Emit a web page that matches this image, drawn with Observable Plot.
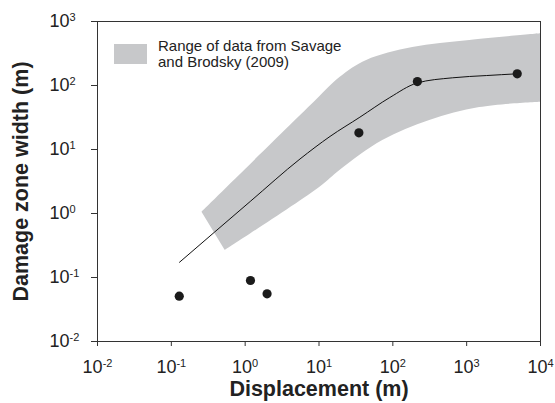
<!DOCTYPE html>
<html>
<head>
<meta charset="utf-8">
<script src="https://cdn.jsdelivr.net/npm/d3@7"></script>
<script src="https://cdn.jsdelivr.net/npm/@observablehq/plot@0.6"></script>
<style>
  body { margin: 0; background: #fff; }
  #wrap { position: relative; width: 555px; height: 403px; font-family: "Liberation Sans", Arial, sans-serif; }
  #legend { position: absolute; left: 114px; top: 38px; display: flex; align-items: flex-start; pointer-events: none; }
  #legend .sw { width: 33px; height: 20px; background: #c7c8ca; margin-top: 6px; }
  #legend .tx { margin-left: 11px; font-size: 15px; line-height: 16px; color: #222; }
</style>
</head>
<body>
<div id="wrap"></div>
<script>
// Tick values
const xTicks = [1e-2, 1e-1, 1e0, 1e1, 1e2, 1e3, 1e4];
const yTicks = [1e-2, 1e-1, 1e0, 1e1, 1e2, 1e3];

// Measured damage-zone data points
const pointX = [0.128, 1.18, 1.98, 34.7, 215, 4840];
const pointY = [0.051, 0.0897, 0.0556, 18.2, 115, 152];

// Fitted curve
const curveX = [0.129, 1.17, 5.53, 14.1, 35.8, 91, 211, 647, 1845, 4700];
const curveY = [0.173, 1.54, 7.11, 16.0, 32, 64.9, 109, 132, 143, 152];

// Savage & Brodsky (2009) range band: lower and upper edges
const lowerX = [0.537, 10.3, 19.2, 73, 316, 1500, 10000];
const lowerY = [0.264, 2.58, 4.7, 13.8, 28.4, 45.3, 54.8];
const upperX = [0.26, 9.1, 19.2, 44.2, 186, 1100, 10000];
const upperY = [1.05, 58.3, 133, 246, 392, 505, 643];

const legendText = ["Range of data from Savage", "and Brodsky (2009)"];
const xTitle = "Displacement (m)";
const yTitle = "Damage zone width (m)";

const points = pointX.map((x, i) => ({x, y: pointY[i]}));
const curve = curveX.map((x, i) => ({x, y: curveY[i]}));
const band = lowerX.map((lx, i) => ({lx, ly: lowerY[i], ux: upperX[i], uy: upperY[i]}));

const fmt = d => "10^" + Math.round(Math.log10(d));
const font = '"Liberation Sans", Arial, sans-serif';

const plot = Plot.plot({
  width: 555,
  height: 403,
  marginLeft: 97,
  marginRight: 15,
  marginTop: 21,
  marginBottom: 62,
  style: {fontFamily: font, fontSize: "18px", color: "#222", background: "#fff", overflow: "visible"},
  x: {type: "log", domain: [1e-2, 1e4]},
  y: {type: "log", domain: [1e-2, 1e3]},
  marks: [
    Plot.area(band, {x1: "lx", y1: "ly", x2: "ux", y2: "uy", fill: "#c7c8ca", curve: "catmull-rom"}),
    Plot.line(curve, {x: "x", y: "y", stroke: "#111", strokeWidth: 1, curve: "monotone-x"}),
    Plot.dot(points, {x: "x", y: "y", r: 4.6, fill: "#1b1b1b", stroke: "none"}),
    Plot.frame({stroke: "#333", strokeWidth: 1}),
    Plot.axisX({ticks: xTicks, tickSize: 5, tickPadding: 14, tickFormat: fmt, label: null, stroke: "#333"}),
    Plot.axisY({ticks: yTicks, tickSize: 6, tickPadding: 42, textAnchor: "start", tickFormat: fmt, label: null, stroke: "#333"}),
    Plot.text([xTitle], {text: d => d, frameAnchor: "bottom", textAnchor: "middle", lineAnchor: "middle", dy: 48, fontSize: 21.5, fontWeight: "bold", fill: "#222"}),
    Plot.text([yTitle], {text: d => d, frameAnchor: "left", textAnchor: "middle", lineAnchor: "middle", dx: -76.4, rotate: -90, fontSize: 21.5, fontWeight: "bold", fill: "#222"})
  ]
});

// superscript exponents in tick labels
d3.select(plot)
  .selectAll('g[aria-label="x-axis tick label"] text, g[aria-label="y-axis tick label"] text')
  .each(function () {
    const parts = this.textContent.split("^");
    if (parts.length !== 2) return;
    this.textContent = "";
    d3.select(this).append("tspan").text(parts[0]);
    d3.select(this).append("tspan").attr("dy", "-0.55em").attr("font-size", "11px").text(parts[1]);
  });

const wrap = document.getElementById("wrap");
wrap.appendChild(plot);
const lg = document.createElement("div");
lg.id = "legend";
lg.innerHTML = '<div class="sw"></div><div class="tx">' + legendText.join("<br>") + '</div>';
wrap.appendChild(lg);
</script>
</body>
</html>
